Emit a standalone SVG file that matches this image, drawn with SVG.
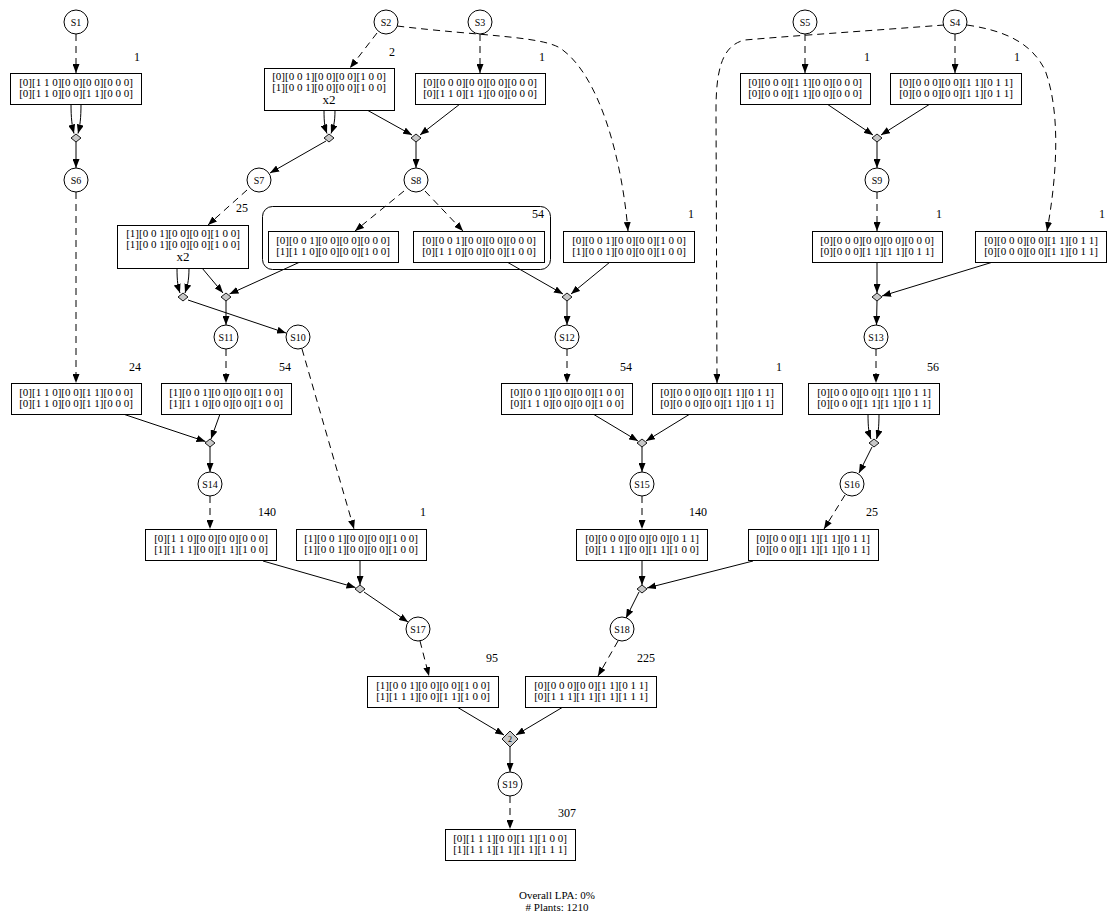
<svg xmlns="http://www.w3.org/2000/svg" width="1109" height="916" viewBox="0 0 1109 916">
<style>
text{font-family:"Liberation Serif","Times New Roman",serif;fill:#000}
.t{font-size:11px;text-anchor:middle}
.x{font-size:13px;text-anchor:middle}
.c{font-size:12px;text-anchor:middle}
.s{font-size:10px;text-anchor:middle}
.box rect{fill:#fff;stroke:#000;stroke-width:1}
.st circle{fill:#fff;stroke:#000;stroke-width:1}
.j polygon{fill:#c8c8c8;stroke:#000;stroke-width:0.9}
.cl{fill:none;stroke:#000;stroke-width:1}
#edges path{fill:none;stroke:#000;stroke-width:1;marker-end:url(#a)}
#edges path.d{stroke-dasharray:7,5}
</style>
<defs>
<marker id="a" viewBox="0 0 9 7" refX="9" refY="3.5" markerWidth="9" markerHeight="7" markerUnits="userSpaceOnUse" orient="auto"><path d="M0,0 L9,3.5 L0,7 z" fill="#000" stroke="none"/></marker>
</defs>
<rect width="1109" height="916" fill="#fff"/>

<g id="cluster1"><rect class="cl" x="262.5" y="206.5" width="288" height="63" rx="10"/><text class="c" x="538" y="218">54</text></g>

<g id="edges">
<path class="d" d="M76,34 L76,73"/>
<path d="M71,104 C71,118 72,126 74,133.5"/>
<path d="M81,104 C81,118 80,126 78,133.5"/>
<path d="M76,142 L76,168"/>
<path class="d" d="M377,33 L350,68"/>
<path d="M324,110 C324,124 325,128 327,133.5"/>
<path d="M335,110 C335,124 333,128 331,133.5"/>
<path d="M326,141 L270,173"/>
<path d="M367,110 L412,135"/>
<path d="M460,104 L420,135"/>
<path d="M416,142 L416,168"/>
<path class="d" d="M480,34 L480,73"/>
<path class="d" d="M397,26 C480,36 540,36 560,48 C600,75 622,160 628,231"/>
<path class="d" d="M805,34 L805,73"/>
<path class="d" d="M955,34 L955,73"/>
<path d="M827,104 L873,135"/>
<path d="M930,104 L881,135"/>
<path d="M877,142 L877,168"/>
<path class="d" d="M944,25 C880,30 790,36 745,40 C722,45 716,70 716,110 L717,383"/>
<path class="d" d="M967,25 C1000,30 1030,40 1045,70 C1060,110 1058,170 1047,231"/>
<path class="d" d="M247,190 L208,225"/>
<path class="d" d="M404,191 L355,231"/>
<path class="d" d="M425,191 L463,231"/>
<path d="M177,268 C177,282 178,287 180,293"/>
<path d="M189,268 C189,282 187,287 185,293"/>
<path d="M202,268 L223,293"/>
<path d="M300,262 L229.5,294"/>
<path d="M188,300 L286,333"/>
<path d="M226,301 L226,325"/>
<path d="M507,262 L563,294"/>
<path d="M610,262 L571,294"/>
<path d="M567,301 L567,325"/>
<path class="d" d="M877,192 L877,231"/>
<path d="M877,262 L877,293"/>
<path d="M993,262 L882,296"/>
<path d="M877,301 L876.5,325"/>
<path class="d" d="M76,192 L76,383"/>
<path class="d" d="M226,349 L226,383"/>
<path d="M123,414 L205.5,441.5"/>
<path d="M220,414 L211,439"/>
<path d="M210,447 L210,472"/>
<path class="d" d="M302,349 L354,529"/>
<path class="d" d="M567,349 L567,383"/>
<path d="M593,414 L638,441"/>
<path d="M690,414 L646,441"/>
<path d="M642,447 L642,472"/>
<path class="d" d="M876,349 L876,383"/>
<path d="M868,414 C868,428 869,434 871,439"/>
<path d="M879,414 C879,428 878,434 876.5,439"/>
<path d="M872,447 L859,473"/>
<path class="d" d="M210,496 L210,529"/>
<path class="d" d="M642,496 L642,529"/>
<path class="d" d="M845,495 L824,529"/>
<path d="M263,561 L355.5,587.5"/>
<path d="M360,561 L360,585"/>
<path d="M364,592 L408,622"/>
<path d="M642,561 L642,585"/>
<path d="M753,561 L647,588"/>
<path d="M639,592 L626,618"/>
<path class="d" d="M420,641 L429,676"/>
<path class="d" d="M618,641 L598,676"/>
<path d="M457,707 L504,735"/>
<path d="M563,707 L516,735"/>
<path d="M510,747 L510,772"/>
<path class="d" d="M510,796 L510,829"/>
</g>

<g id="S1" class="st"><circle cx="76" cy="22" r="12"/><text class="s" x="76" y="25.5">S1</text></g>
<g id="S2" class="st"><circle cx="386" cy="22" r="12"/><text class="s" x="386" y="25.5">S2</text></g>
<g id="S3" class="st"><circle cx="480" cy="22" r="12"/><text class="s" x="480" y="25.5">S3</text></g>
<g id="S5" class="st"><circle cx="805" cy="22" r="12"/><text class="s" x="805" y="25.5">S5</text></g>
<g id="S4" class="st"><circle cx="955" cy="22" r="12"/><text class="s" x="955" y="25.5">S4</text></g>
<g id="S6" class="st"><circle cx="76" cy="180" r="12"/><text class="s" x="76" y="183.5">S6</text></g>
<g id="S7" class="st"><circle cx="259" cy="180" r="12"/><text class="s" x="259" y="183.5">S7</text></g>
<g id="S8" class="st"><circle cx="416" cy="180" r="12"/><text class="s" x="416" y="183.5">S8</text></g>
<g id="S9" class="st"><circle cx="877" cy="180" r="12"/><text class="s" x="877" y="183.5">S9</text></g>
<g id="S11" class="st"><circle cx="226" cy="337" r="12"/><text class="s" x="226" y="340.5">S11</text></g>
<g id="S10" class="st"><circle cx="298" cy="337" r="12"/><text class="s" x="298" y="340.5">S10</text></g>
<g id="S12" class="st"><circle cx="567" cy="337" r="12"/><text class="s" x="567" y="340.5">S12</text></g>
<g id="S13" class="st"><circle cx="876" cy="337" r="12"/><text class="s" x="876" y="340.5">S13</text></g>
<g id="S14" class="st"><circle cx="210" cy="484" r="12"/><text class="s" x="210" y="487.5">S14</text></g>
<g id="S15" class="st"><circle cx="642" cy="484" r="12"/><text class="s" x="642" y="487.5">S15</text></g>
<g id="S16" class="st"><circle cx="852" cy="484" r="12"/><text class="s" x="852" y="487.5">S16</text></g>
<g id="S17" class="st"><circle cx="418" cy="629" r="12"/><text class="s" x="418" y="632.5">S17</text></g>
<g id="S18" class="st"><circle cx="622" cy="629" r="12"/><text class="s" x="622" y="632.5">S18</text></g>
<g id="S19" class="st"><circle cx="510" cy="784" r="12"/><text class="s" x="510" y="787.5">S19</text></g>

<g id="J1" class="j"><polygon points="76,134 81,138 76,142 71,138"/></g>
<g id="J2" class="j"><polygon points="329,134 334,138 329,142 324,138"/></g>
<g id="J3" class="j"><polygon points="416,134 421,138 416,142 411,138"/></g>
<g id="J4" class="j"><polygon points="877,134 882,138 877,142 872,138"/></g>
<g id="J7a" class="j"><polygon points="183,293 188,297 183,301 178,297"/></g>
<g id="J7b" class="j"><polygon points="226,293 231,297 226,301 221,297"/></g>
<g id="J12" class="j"><polygon points="567,293 572,297 567,301 562,297"/></g>
<g id="J13" class="j"><polygon points="877,293 882,297 877,301 872,297"/></g>
<g id="J14" class="j"><polygon points="210,439 215,443 210,447 205,443"/></g>
<g id="J15" class="j"><polygon points="642,439 647,443 642,447 637,443"/></g>
<g id="J16" class="j"><polygon points="874,439 879,443 874,447 869,443"/></g>
<g id="J17" class="j"><polygon points="360,585 365,589 360,593 355,589"/></g>
<g id="J18" class="j"><polygon points="642,585 647,589 642,593 637,589"/></g>
<g id="J19" class="j"><polygon points="510,731 518,739 510,747 502,739"/><text x="510" y="742" style="font-size:8px;text-anchor:middle">2</text></g>

<g id="B1" class="box"><rect x="10.5" y="73.5" width="131" height="31"/><text class="t" x="76" y="86">[0][1 1 0][0 0][0 0][0 0 0]</text><text class="t" x="76" y="97">[0][1 1 0][0 0][1 1][0 0 0]</text><text class="c" x="137" y="61">1</text></g>
<g id="B2" class="box"><rect x="264.5" y="68.5" width="130" height="42"/><text class="t" x="329" y="80">[0][0 0 1][0 0][0 0][1 0 0]</text><text class="t" x="329" y="91">[1][0 0 1][0 0][0 0][1 0 0]</text><text class="x" x="329" y="104">x2</text><text class="c" x="392" y="56">2</text></g>
<g id="B3" class="box"><rect x="415.5" y="73.5" width="130" height="31"/><text class="t" x="480" y="86">[0][0 0 0][0 0][0 0][0 0 0]</text><text class="t" x="480" y="97">[0][1 1 0][1 1][0 0][0 0 0]</text><text class="c" x="542" y="61">1</text></g>
<g id="B5" class="box"><rect x="740.5" y="73.5" width="130" height="31"/><text class="t" x="805" y="86">[0][0 0 0][1 1][0 0][0 0 0]</text><text class="t" x="805" y="97">[0][0 0 0][1 1][0 0][0 0 0]</text><text class="c" x="867" y="61">1</text></g>
<g id="B4" class="box"><rect x="890.5" y="73.5" width="131" height="31"/><text class="t" x="956" y="86">[0][0 0 0][0 0][1 1][0 1 1]</text><text class="t" x="956" y="97">[0][0 0 0][0 0][1 1][0 1 1]</text><text class="c" x="1017" y="61">1</text></g>

<g id="B7" class="box"><rect x="117.5" y="225.5" width="131" height="43"/><text class="t" x="183" y="237">[1][0 0 1][0 0][0 0][1 0 0]</text><text class="t" x="183" y="248">[1][0 0 1][0 0][0 0][1 0 0]</text><text class="x" x="183" y="261">x2</text><text class="c" x="242" y="212">25</text></g>
<g id="B8a" class="box"><rect x="268.5" y="231.5" width="130" height="31"/><text class="t" x="333" y="244">[0][0 0 1][0 0][0 0][0 0 0]</text><text class="t" x="333" y="255">[1][1 1 0][0 0][0 0][1 0 0]</text></g>
<g id="B8b" class="box"><rect x="413.5" y="231.5" width="131" height="31"/><text class="t" x="479" y="244">[0][0 0 1][0 0][0 0][0 0 0]</text><text class="t" x="479" y="255">[0][1 1 0][0 0][0 0][1 0 0]</text></g>
<g id="B2b" class="box"><rect x="563.5" y="231.5" width="131" height="31"/><text class="t" x="629" y="244">[0][0 0 1][0 0][0 0][1 0 0]</text><text class="t" x="629" y="255">[1][0 0 1][0 0][0 0][1 0 0]</text><text class="c" x="691" y="218">1</text></g>
<g id="B9" class="box"><rect x="812.5" y="231.5" width="130" height="31"/><text class="t" x="877" y="244">[0][0 0 0][0 0][0 0][0 0 0]</text><text class="t" x="877" y="255">[0][0 0 0][1 1][1 1][0 1 1]</text><text class="c" x="939" y="218">1</text></g>
<g id="B4b" class="box"><rect x="975.5" y="231.5" width="131" height="31"/><text class="t" x="1041" y="244">[0][0 0 0][0 0][1 1][0 1 1]</text><text class="t" x="1041" y="255">[0][0 0 0][0 0][1 1][0 1 1]</text><text class="c" x="1102" y="218">1</text></g>

<g id="B6" class="box"><rect x="11.5" y="383.5" width="130" height="31"/><text class="t" x="76" y="396">[0][1 1 0][0 0][1 1][0 0 0]</text><text class="t" x="76" y="407">[0][1 1 0][0 0][1 1][0 0 0]</text><text class="c" x="135" y="371">24</text></g>
<g id="B11" class="box"><rect x="161.5" y="383.5" width="130" height="31"/><text class="t" x="226" y="396">[1][0 0 1][0 0][0 0][1 0 0]</text><text class="t" x="226" y="407">[1][1 1 0][0 0][0 0][1 0 0]</text><text class="c" x="285" y="371">54</text></g>
<g id="B12" class="box"><rect x="501.5" y="383.5" width="131" height="31"/><text class="t" x="567" y="396">[0][0 0 1][0 0][0 0][1 0 0]</text><text class="t" x="567" y="407">[0][1 1 0][0 0][0 0][1 0 0]</text><text class="c" x="626" y="371">54</text></g>
<g id="B13b" class="box"><rect x="652.5" y="383.5" width="130" height="31"/><text class="t" x="717" y="396">[0][0 0 0][0 0][1 1][0 1 1]</text><text class="t" x="717" y="407">[0][0 0 0][0 0][1 1][0 1 1]</text><text class="c" x="779" y="371">1</text></g>
<g id="B13" class="box"><rect x="808.5" y="383.5" width="131" height="31"/><text class="t" x="874" y="396">[0][0 0 0][0 0][1 1][0 1 1]</text><text class="t" x="874" y="407">[0][0 0 0][1 1][1 1][0 1 1]</text><text class="c" x="933" y="371">56</text></g>

<g id="B14" class="box"><rect x="145.5" y="529.5" width="131" height="31"/><text class="t" x="211" y="542">[0][1 1 0][0 0][0 0][0 0 0]</text><text class="t" x="211" y="553">[1][1 1 1][0 0][1 1][1 0 0]</text><text class="c" x="267" y="516">140</text></g>
<g id="B10" class="box"><rect x="296.5" y="529.5" width="130" height="31"/><text class="t" x="361" y="542">[1][0 0 1][0 0][0 0][1 0 0]</text><text class="t" x="361" y="553">[1][0 0 1][0 0][0 0][1 0 0]</text><text class="c" x="423" y="516">1</text></g>
<g id="B15" class="box"><rect x="576.5" y="529.5" width="131" height="31"/><text class="t" x="642" y="542">[0][0 0 0][0 0][0 0][0 1 1]</text><text class="t" x="642" y="553">[0][1 1 1][0 0][1 1][1 0 0]</text><text class="c" x="698" y="516">140</text></g>
<g id="B16" class="box"><rect x="748.5" y="529.5" width="130" height="31"/><text class="t" x="813" y="542">[0][0 0 0][1 1][1 1][0 1 1]</text><text class="t" x="813" y="553">[0][0 0 0][1 1][1 1][0 1 1]</text><text class="c" x="872" y="516">25</text></g>

<g id="B17" class="box"><rect x="367.5" y="676.5" width="131" height="31"/><text class="t" x="433" y="689">[1][0 0 1][0 0][0 0][1 0 0]</text><text class="t" x="433" y="700">[1][1 1 1][0 0][1 1][1 0 0]</text><text class="c" x="492" y="662">95</text></g>
<g id="B18" class="box"><rect x="525.5" y="676.5" width="131" height="31"/><text class="t" x="591" y="689">[0][0 0 0][0 0][1 1][0 1 1]</text><text class="t" x="591" y="700">[0][1 1 1][1 1][1 1][1 1 1]</text><text class="c" x="646" y="662">225</text></g>
<g id="B19" class="box"><rect x="445.5" y="829.5" width="130" height="31"/><text class="t" x="510" y="842">[0][1 1 1][0 0][1 1][1 0 0]</text><text class="t" x="510" y="853">[1][1 1 1][1 1][1 1][1 1 1]</text><text class="c" x="567" y="817">307</text></g>

<g id="footer"><text class="t" x="557" y="899">Overall LPA: 0%</text><text class="t" x="557" y="911"># Plants: 1210</text></g>
</svg>
